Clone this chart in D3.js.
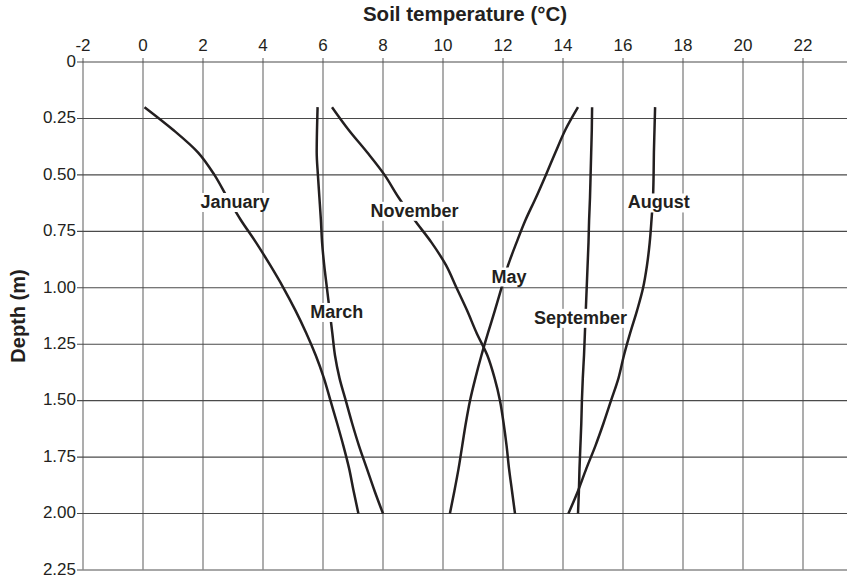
<!DOCTYPE html>
<html>
<head>
<meta charset="utf-8">
<script src="https://cdn.jsdelivr.net/npm/d3@7/dist/d3.min.js"></script>
<style>
  html, body { margin: 0; padding: 0; background: #fff; }
  svg { display: block; font-family: "Liberation Sans", Arial, Helvetica, sans-serif; }
</style>
</head>
<body>
<svg id="chart" width="847" height="580"></svg>
<script>
// Soil temperature profiles by month (depth in m, temperature in °C)
const depths = [0.2, 0.3, 0.4, 0.5, 0.6, 0.7, 0.8, 0.9, 1.0, 1.1, 1.2, 1.3, 1.4, 1.5, 1.6, 1.7, 1.8, 1.9, 2.0];

const months = ["January", "March", "November", "May", "September", "August"];

const tempJanuary   = [0.05, 1.0, 1.83, 2.38, 2.81, 3.26, 3.77, 4.24, 4.68, 5.08, 5.44, 5.76, 6.03, 6.25, 6.47, 6.68, 6.87, 7.02, 7.18];
const tempMarch     = [5.82, 5.80, 5.79, 5.83, 5.88, 5.93, 5.97, 6.04, 6.13, 6.22, 6.31, 6.40, 6.55, 6.76, 6.97, 7.20, 7.46, 7.72, 8.0];
const tempNovember  = [6.3, 6.85, 7.47, 8.05, 8.52, 9.05, 9.62, 10.1, 10.45, 10.8, 11.12, 11.48, 11.72, 11.9, 12.02, 12.12, 12.2, 12.3, 12.4];
const tempMay       = [14.5, 14.08, 13.75, 13.43, 13.1, 12.75, 12.45, 12.17, 11.95, 11.73, 11.5, 11.28, 11.08, 10.9, 10.76, 10.64, 10.52, 10.38, 10.23];
const tempSeptember = [14.97, 14.96, 14.94, 14.92, 14.9, 14.87, 14.85, 14.82, 14.79, 14.76, 14.73, 14.7, 14.66, 14.63, 14.61, 14.58, 14.55, 14.53, 14.5];
const tempAugust    = [17.07, 17.05, 17.03, 17.02, 17.0, 16.95, 16.89, 16.8, 16.67, 16.47, 16.24, 16.03, 15.85, 15.6, 15.35, 15.08, 14.78, 14.5, 14.18];

const seriesTemps = [tempJanuary, tempMarch, tempNovember, tempMay, tempSeptember, tempAugust];

// Where each month's name sits (temperature, depth)
const labelTemp  = [3.07, 6.46, 9.05, 12.2, 14.58, 17.19];
const labelDepth = [0.618, 1.105, 0.657, 0.948, 1.131, 0.62];

const xTicks = [-2, 0, 2, 4, 6, 8, 10, 12, 14, 16, 18, 20, 22];
const xTickLabels = ["-2", "0", "2", "4", "6", "8", "10", "12", "14", "16", "18", "20", "22"];
const yTicks = [0, 0.25, 0.5, 0.75, 1.0, 1.25, 1.5, 1.75, 2.0, 2.25];
const yTickLabels = ["0", "0.25", "0.50", "0.75", "1.00", "1.25", "1.50", "1.75", "2.00", "2.25"];

// Layout
const plotLeft = 83, plotTop = 62, plotRight = 847, plotBottom = 570;
const ink = "#231f20";

const svg = d3.select("#chart");

const x = d3.scaleLinear().domain([-2, 22]).range([plotLeft, plotLeft + 24 * 30]);
const y = d3.scaleLinear().domain([0, 2.25]).range([plotTop, plotBottom]);

// Vertical grid lines (one per temperature tick)
svg.append("g")
  .selectAll("line")
  .data(xTicks)
  .join("line")
  .attr("x1", d => x(d)).attr("x2", d => x(d))
  .attr("y1", plotTop - 4).attr("y2", plotBottom)
  .attr("stroke", "#8a8a8a")
  .attr("stroke-width", 1.4);

// Horizontal grid lines (one per depth tick)
svg.append("g")
  .selectAll("line")
  .data(yTicks)
  .join("line")
  .attr("x1", plotLeft - 6).attr("x2", plotRight)
  .attr("y1", d => y(d)).attr("y2", d => y(d))
  .attr("stroke", (d, i) => i === yTicks.length - 1 ? "#8a8a8a" : "#4a4a4a")
  .attr("stroke-width", (d, i) => i === yTicks.length - 1 ? 1.4 : 1.1);

// Top temperature axis labels
svg.append("g")
  .selectAll("text")
  .data(xTicks)
  .join("text")
  .attr("x", d => x(d))
  .attr("y", 51)
  .attr("text-anchor", "middle")
  .attr("font-size", 17)
  .attr("fill", ink)
  .text((d, i) => xTickLabels[i]);

// Left depth axis labels
svg.append("g")
  .selectAll("text")
  .data(yTicks)
  .join("text")
  .attr("x", 76)
  .attr("y", d => y(d))
  .attr("dy", "0.28em")
  .attr("text-anchor", "end")
  .attr("font-size", 17)
  .attr("fill", ink)
  .text((d, i) => yTickLabels[i]);

// Axis titles
svg.append("text")
  .attr("x", (plotLeft + plotRight) / 2)
  .attr("y", 21)
  .attr("text-anchor", "middle")
  .attr("font-size", 20.5)
  .attr("font-weight", "bold")
  .attr("fill", ink)
  .text("Soil temperature (°C)");

svg.append("text")
  .attr("transform", `translate(25,${(plotTop + plotBottom) / 2}) rotate(-90)`)
  .attr("text-anchor", "middle")
  .attr("font-size", 20)
  .attr("font-weight", "bold")
  .attr("fill", ink)
  .text("Depth (m)");

// Temperature profiles
const line = d3.line()
  .x(d => x(d[1]))
  .y(d => y(d[0]))
  .curve(d3.curveMonotoneY);

svg.append("g")
  .selectAll("path")
  .data(seriesTemps)
  .join("path")
  .attr("d", temps => line(depths.map((dp, i) => [dp, temps[i]])))
  .attr("fill", "none")
  .attr("stroke", ink)
  .attr("stroke-width", 2.5)
  .attr("stroke-linejoin", "round");

// Month labels on white patches
const labels = svg.append("g")
  .selectAll("g")
  .data(months)
  .join("g");

labels.append("text")
  .attr("x", (d, i) => x(labelTemp[i]))
  .attr("y", (d, i) => y(labelDepth[i]))
  .attr("dy", "0.36em")
  .attr("text-anchor", "middle")
  .attr("font-size", 18)
  .attr("font-weight", "bold")
  .attr("fill", ink)
  .text(d => d);

labels.each(function () {
  const g = d3.select(this);
  const bb = g.select("text").node().getBBox();
  g.insert("rect", "text")
    .attr("x", bb.x - 2)
    .attr("y", bb.y + 1)
    .attr("width", bb.width + 4)
    .attr("height", bb.height - 1)
    .attr("fill", "#fff");
});
</script>
</body>
</html>
